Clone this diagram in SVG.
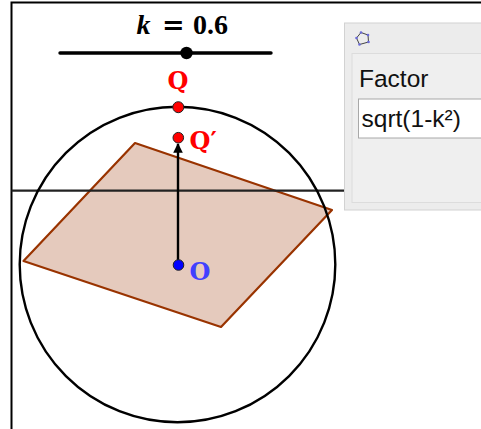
<svg xmlns="http://www.w3.org/2000/svg" width="481" height="429" viewBox="0 0 481 429">
<style>
.lbl{font-family:"Liberation Serif","Times New Roman",serif;font-weight:bold}
.pl{font-family:"DejaVu Serif","Liberation Serif",serif;font-weight:bold;font-size:24px}
.ui{font-family:"Liberation Sans",Arial,sans-serif;fill:#111}
.pt{stroke:#222;stroke-width:1}
</style>
<defs>
<marker id="ah" viewBox="0 0 10 10" refX="9" refY="5" markerWidth="4.5" markerHeight="4" markerUnits="strokeWidth" orient="auto">
<path d="M0,0 L10,5 L0,10 z" fill="#000"/>
</marker>
</defs>
<rect width="481" height="429" fill="#fff"/>
<g id="frame" stroke="#000" stroke-width="2" fill="none">
<path d="M11.5,429 V2.5 H481"/>
</g>
<g id="slider">
<line x1="60" y1="53" x2="271" y2="53" stroke="#000" stroke-width="3.4" stroke-linecap="round"/>
<circle cx="186.5" cy="53" r="6.2" fill="#000"/>
<text class="lbl" y="33.5" font-size="28"><tspan x="136.5" font-style="italic">k</tspan><tspan x="162" font-family="DejaVu Serif" font-size="27">=</tspan><tspan x="193">0.6</tspan></text>
</g>
<g id="quad">
<polygon points="135,143 332,210 221,327 23.5,261" fill="#993300" fill-opacity="0.26" stroke="#993300" stroke-width="2.2" stroke-linejoin="round"/>
</g>
<g id="line">
<line x1="11.5" y1="190.7" x2="345" y2="190.7" stroke="#222" stroke-width="2.2"/>
</g>
<g id="circle">
<circle cx="177.5" cy="264.5" r="157.8" fill="none" stroke="#000" stroke-width="2.4"/>
</g>
<g id="connectors">
<line x1="178" y1="265" x2="178" y2="144" stroke="#000" stroke-width="2.4" marker-end="url(#ah)"/>
</g>
<g id="Q">
<circle class="pt" cx="178.3" cy="107.2" r="5.5" fill="#ff0000"/>
<text class="pl" x="178" y="88.5" fill="#ff0000" text-anchor="middle">Q</text>
</g>
<g id="Qp">
<circle class="pt" cx="178.3" cy="137.7" r="5.3" fill="#ff0000"/>
<text class="pl" x="189.5" y="148.5" fill="#ff0000">Q′</text>
</g>
<g id="O">
<circle class="pt" cx="178.5" cy="265" r="5.3" fill="#0000ff"/>
<text class="pl" x="189.5" y="280" fill="#4040ff">O</text>
</g>
<g id="panel">
<rect x="344.5" y="23" width="140" height="187" fill="#ececec" stroke="#d2d2d2" stroke-width="1"/>
<rect x="352" y="53.5" width="135" height="149" fill="#efefef" stroke="#dcdcdc" stroke-width="1"/>
<g id="icon">
<polygon points="361,32.5 368,35 368.5,42 359.5,44.5 356.5,38" fill="none" stroke="#444" stroke-width="1"/>
<g fill="#6a6ad8">
<circle cx="361" cy="32.5" r="1.3"/><circle cx="368" cy="35" r="1.3"/><circle cx="368.5" cy="42" r="1.3"/><circle cx="359.5" cy="44.5" r="1.3"/><circle cx="356.5" cy="38" r="1.3"/>
</g>
</g>
<text class="ui" x="359" y="87" font-size="24.5">Factor</text>
<rect x="358.5" y="99" width="130" height="39" fill="#fff" stroke="#a8a8a8" stroke-width="1"/>
<text class="ui" x="361.5" y="127" font-size="24.5">sqrt(1-k²)</text>
</g>
</svg>
